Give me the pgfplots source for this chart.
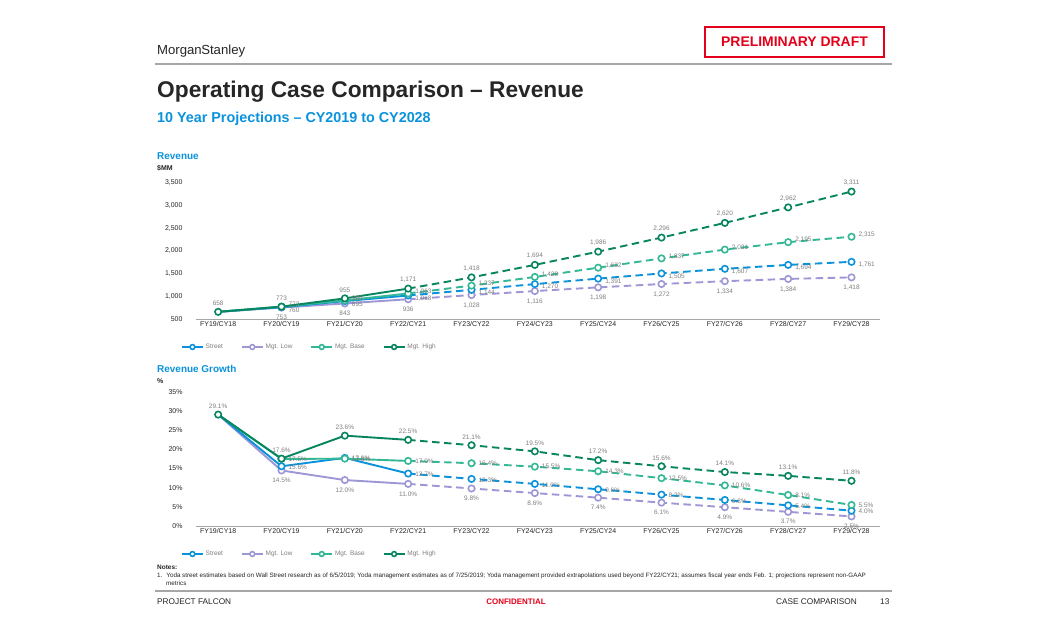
\documentclass[border=0pt]{standalone}
\usepackage{pgfplots}
\pgfplotsset{compat=1.18}
\usepackage{pgfplotstable}
\usepackage{fontspec}
\setmainfont{Liberation Sans}

\definecolor{cStreet}{HTML}{0A93DC}
\definecolor{cLow}{HTML}{9D97D6}
\definecolor{cBase}{HTML}{33B896}
\definecolor{cHigh}{HTML}{07855E}
\definecolor{lblgray}{HTML}{7F7F7F}
\definecolor{txt}{HTML}{262626}
\definecolor{msblue}{HTML}{0A93DC}
\definecolor{rule}{HTML}{A6A6A6}
\definecolor{draftred}{HTML}{E3001B}

\pgfplotstableread{
x street low base high
0 658 658 658 658
1 760 753 773 773
2 895 843 909 955
3 1018 936 1063 1171
4 1144 1028 1237 1418
5 1270 1116 1428 1694
6 1391 1198 1632 1986
7 1505 1272 1837 2296
8 1607 1334 2031 2620
9 1694 1384 2195 2962
10 1761 1418 2315 3311
}\rev

\pgfplotstableread{
x street low base high
0 29.1 29.1 29.1 29.1
1 15.6 14.5 17.5 17.6
2 17.8 12.0 17.6 23.6
3 13.7 11.0 17.0 22.5
4 12.3 9.8 16.4 21.1
5 11.0 8.6 15.5 19.5
6 9.6 7.4 14.3 17.2
7 8.2 6.1 12.5 15.6
8 6.8 4.9 10.6 14.1
9 5.4 3.7 8.1 13.1
10 4.0 2.5 5.5 11.8
}\gro

\pgfplotsset{
  ser/.style={color=#1, line width=1.9bp, mark=*, mark size=3.2bp,
     mark options={fill=white, line width=1.6bp, solid}},
  solidseg/.style={ser=#1, solid, no marks, restrict x to domain=0:3, forget plot},
  dashseg/.style={ser=#1, dash pattern=on 7.5bp off 4.5bp, no marks, restrict x to domain=3:10, forget plot},
  markseg/.style={ser=#1, only marks, forget plot},
  revlbl/.style={nodes near coords={\pgfmathprintnumber[fixed,precision=0,1000 sep={,}]{\pgfplotspointmeta}}},
  grolbl/.style={nodes near coords={\pgfmathprintnumber[fixed,fixed zerofill,precision=1]{\pgfplotspointmeta}\%}},
  lblabove/.style={every node near coord/.append style={anchor=south, yshift=2bp}},
  lblbelow/.style={every node near coord/.append style={anchor=north, yshift=-3.5bp}},
  lblright/.style={every node near coord/.append style={anchor=west, xshift=3bp, yshift=#1}},
  slide/.style={
    scale only axis, width=684bp, clip=false,
    xmin=-0.35, xmax=10.45,
    xtick={0,...,10},
    xticklabels={FY19/CY18,FY20/CY19,FY21/CY20,FY22/CY21,FY23/CY22,FY24/CY23,FY25/CY24,FY26/CY25,FY27/CY26,FY28/CY27,FY29/CY28},
    axis lines*=left,
    y axis line style={draw=none},
    x axis line style={draw=rule, line width=0.8bp},
    tick style={draw=none},
    tick label style={font=\fontsize{7}{8}\selectfont, text=txt},
    xticklabel style={yshift=1bp},
    yticklabel style={xshift=-10bp},
    /pgf/number format/assume math mode=true,
    nodes near coords style={font=\fontsize{6.5}{7}\selectfont, text=lblgray},
    legend style={draw=none, fill=none, font=\fontsize{6.5}{7}\selectfont, text=lblgray,
      legend columns=4, anchor=west, inner sep=0pt,
      /tikz/every even column/.append style={column sep=16bp}},
    legend image code/.code={\draw[mark repeat=2,mark phase=2,##1, line width=1.6bp, mark size=2.4bp] plot coordinates {(0bp,0bp) (10.5bp,0bp) (21bp,0bp)};},
  },
}

\begin{document}
\begin{tikzpicture}
\path[use as bounding box, fill=white] (0,0) rectangle (1046bp,-635bp);

% header
\node[anchor=base west, inner sep=0pt, text=txt, font=\fontsize{13.2}{15}\selectfont] at (157bp,-54bp) {Morgan\kern-0.5pt Stanley};
\draw[draftred, line width=1.6bp] (705bp,-27bp) rectangle (884bp,-57bp);
\node[text=draftred, font=\fontsize{14}{16}\selectfont\bfseries, inner sep=0pt] at (794.5bp,-42bp) {PRELIMINARY DRAFT};
\draw[rule, line width=1.2bp] (155bp,-64bp) -- (892bp,-64bp);
\node[anchor=base west, inner sep=0pt, text=txt, font=\fontsize{22.8}{26}\selectfont\bfseries] at (157bp,-97bp) {Operating Case Comparison -- Revenue};
\node[anchor=base west, inner sep=0pt, text=msblue, font=\fontsize{14.4}{16}\selectfont\bfseries] at (157bp,-122bp) {10 Year Projections -- CY2019 to CY2028};

\node[anchor=base west, inner sep=0pt, text=msblue, font=\fontsize{10}{12}\selectfont\bfseries] at (157bp,-159bp) {Revenue};
\node[anchor=base west, inner sep=0pt, text=txt, font=\fontsize{7}{8}\selectfont\bfseries] at (157bp,-170bp) {\$MM};

\node[anchor=base west, inner sep=0pt, text=msblue, font=\fontsize{10}{12}\selectfont\bfseries] at (157bp,-372bp) {Revenue Growth};
\node[anchor=base west, inner sep=0pt, text=txt, font=\fontsize{7}{8}\selectfont\bfseries] at (157bp,-383bp) {\%};

% ---------- Revenue chart
\begin{axis}[slide, at={(196bp,-319bp)}, anchor=south west, height=136bp,
  ymin=500, ymax=3500, ytick={500,1000,...,3500},
  /pgf/number format/.cd, 1000 sep={,}, /pgfplots/.cd,
  legend style={at={(-0.022,-0.206)}},
]
\addlegendimage{ser=cStreet}\addlegendentry{Street}
\addlegendimage{ser=cLow}\addlegendentry{Mgt. Low}
\addlegendimage{ser=cBase}\addlegendentry{Mgt. Base}
\addlegendimage{ser=cHigh}\addlegendentry{Mgt. High}
\addplot[solidseg=cLow] table[x=x,y=low]{\rev};
\addplot[dashseg=cLow] table[x=x,y=low]{\rev};
\addplot[solidseg=cStreet] table[x=x,y=street]{\rev};
\addplot[dashseg=cStreet] table[x=x,y=street]{\rev};
\addplot[solidseg=cBase] table[x=x,y=base]{\rev};
\addplot[dashseg=cBase] table[x=x,y=base]{\rev};
\addplot[solidseg=cHigh] table[x=x,y=high]{\rev};
\addplot[dashseg=cHigh] table[x=x,y=high]{\rev};
\addplot[markseg=cLow, revlbl, lblbelow, restrict x to domain=1:10] table[x=x,y=low,meta=low]{\rev};
\addplot[markseg=cStreet, revlbl, lblright=-3bp, restrict x to domain=1:10] table[x=x,y=street,meta=street]{\rev};
\addplot[markseg=cBase, revlbl, lblright=2.2bp, restrict x to domain=1:10] table[x=x,y=base,meta=base]{\rev};
\addplot[markseg=cHigh, revlbl, lblabove] table[x=x,y=high,meta=high]{\rev};
\end{axis}

% ---------- Growth chart
\begin{axis}[slide, at={(196bp,-526bp)}, anchor=south west, height=134bp,
  ymin=0, ymax=35, ytick={0,5,...,35},
  yticklabel={\pgfmathprintnumber{\tick}\%},
  legend style={at={(-0.022,-0.209)}},
]
\addlegendimage{ser=cStreet}\addlegendentry{Street}
\addlegendimage{ser=cLow}\addlegendentry{Mgt. Low}
\addlegendimage{ser=cBase}\addlegendentry{Mgt. Base}
\addlegendimage{ser=cHigh}\addlegendentry{Mgt. High}
\addplot[solidseg=cLow] table[x=x,y=low]{\gro};
\addplot[dashseg=cLow] table[x=x,y=low]{\gro};
\addplot[solidseg=cStreet] table[x=x,y=street]{\gro};
\addplot[dashseg=cStreet] table[x=x,y=street]{\gro};
\addplot[solidseg=cBase] table[x=x,y=base]{\gro};
\addplot[dashseg=cBase] table[x=x,y=base]{\gro};
\addplot[solidseg=cHigh] table[x=x,y=high]{\gro};
\addplot[dashseg=cHigh] table[x=x,y=high]{\gro};
\addplot[markseg=cLow, grolbl, lblbelow, restrict x to domain=1:10] table[x=x,y=low,meta=low]{\gro};
\addplot[markseg=cStreet, grolbl, lblright=-1bp, restrict x to domain=1:10] table[x=x,y=street,meta=street]{\gro};
\addplot[markseg=cBase, grolbl, lblright=0bp, restrict x to domain=1:10] table[x=x,y=base,meta=base]{\gro};
\addplot[markseg=cHigh, grolbl, lblabove] table[x=x,y=high,meta=high]{\gro};
\end{axis}

% notes & footer
\node[anchor=base west, inner sep=0pt, text=txt, font=\fontsize{6.5}{7}\selectfont\bfseries] at (157bp,-569bp) {Notes:};
\node[anchor=base west, inner sep=0pt, text=txt, font=\fontsize{6.3}{7}\selectfont] at (157bp,-577.5bp) {1.\hspace{4pt}Yoda street estimates based on Wall Street research as of 6/5/2019; Yoda management estimates as of 7/25/2019; Yoda management provided extrapolations used beyond FY22/CY21; assumes fiscal year ends Feb. 1; projections represent non-GAAP};
\node[anchor=base west, inner sep=0pt, text=txt, font=\fontsize{6.3}{7}\selectfont] at (166bp,-585bp) {metrics};
\draw[rule, line width=1.2bp] (155bp,-591bp) -- (892bp,-591bp);
\node[anchor=base west, inner sep=0pt, text=txt, font=\fontsize{8.3}{10}\selectfont] at (157bp,-604bp) {PROJECT FALCON};
\node[anchor=base, inner sep=0pt, text=draftred, font=\fontsize{8}{10}\selectfont\bfseries] at (516bp,-604bp) {CONFIDENTIAL};
\node[anchor=base east, inner sep=0pt, text=txt, font=\fontsize{8.3}{10}\selectfont] at (857bp,-604bp) {CASE COMPARISON};
\node[anchor=base west, inner sep=0pt, text=txt, font=\fontsize{8.3}{10}\selectfont] at (880bp,-604bp) {13};
\end{tikzpicture}
\end{document}
